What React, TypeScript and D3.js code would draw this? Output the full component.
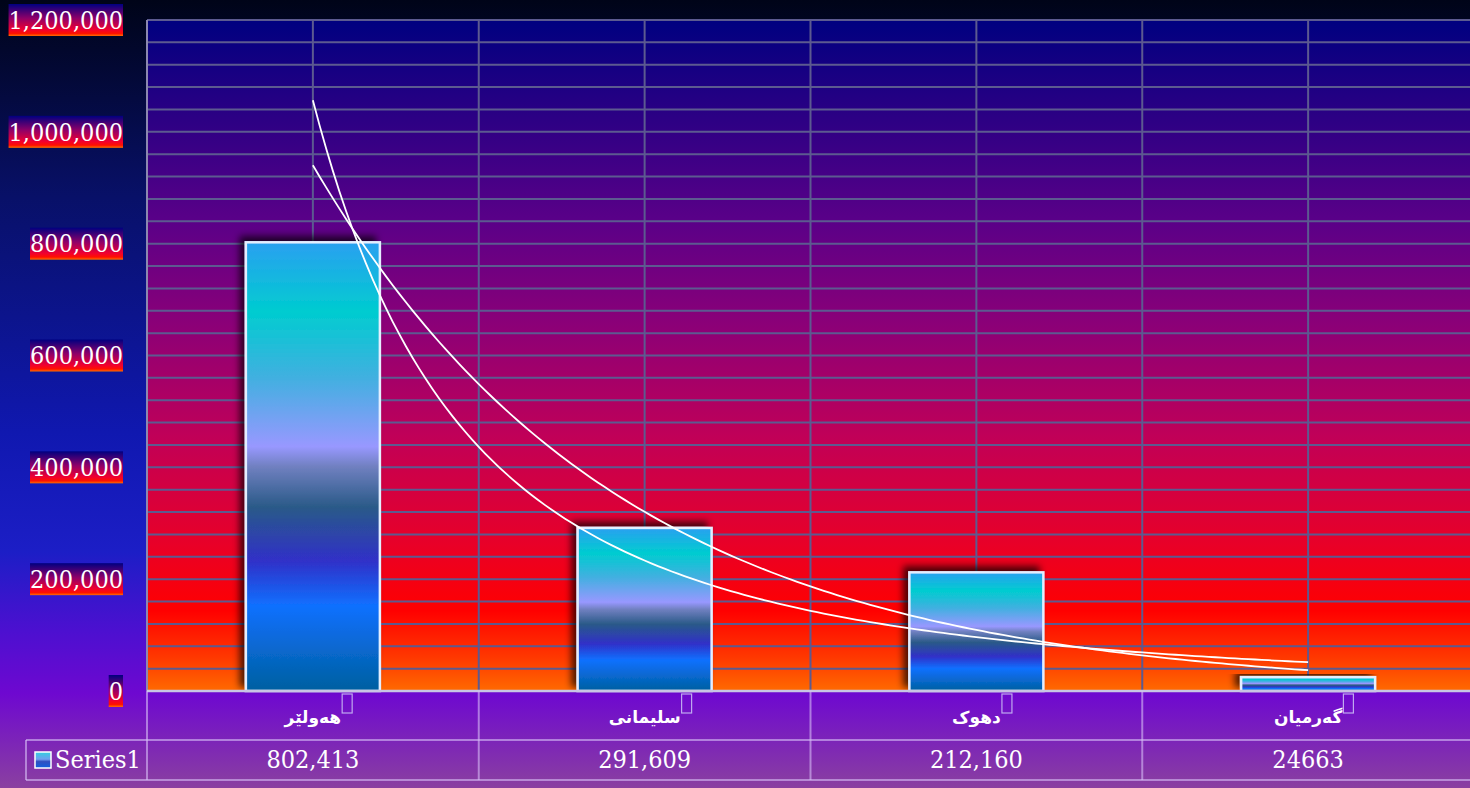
import React, { useEffect, useRef } from "react";
import * as d3 from "d3";

const categories = ["هەولێر", "سلیمانی", "دهوک", "گەرمیان"];
const values = [802413, 291609, 212160, 24663];
const valueLabels = ["802,413", "291,609", "212,160", "24663"];
const seriesName = "Series1";
const yTicks = [0, 200000, 400000, 600000, 800000, 1000000, 1200000];
const yMax = 1200000;
const minorStep = 40000;

const SERIF = "'DejaVu Serif Condensed', 'Liberation Serif', serif";

export default function App() {
  const ref = useRef<SVGSVGElement>(null);

  useEffect(() => {
    const svg = d3.select(ref.current as SVGSVGElement);
    svg.selectAll("*").remove();
    const W = 1470, H = 788;
    const left = 147, right = 1474, top = 20, bottom = 691;
    const tableRow1 = 740, tableRow2 = 780, tableLeft = 26;

    const x = d3.scaleBand<string>().domain(categories).range([left, right]).padding(0);
    const bw = x.bandwidth();
    const cx = (c: string) => (x(c) as number) + bw / 2;
    const y = d3.scaleLinear().domain([0, yMax]).range([bottom, top]);

    const defs = svg.append("defs");
    const lin = (id: string, stops: [number, string][]) => {
      const g = defs.append("linearGradient").attr("id", id)
        .attr("x1", 0).attr("y1", 0).attr("x2", 0).attr("y2", 1);
      stops.forEach(([o, c]) => g.append("stop").attr("offset", o).attr("stop-color", c));
    };
    lin("bgGrad", [[0, "#000418"], [0.25, "#081068"], [0.55, "#1018b0"], [0.7, "#1c1ec6"], [0.8, "#4c10d0"], [0.88, "#6e08d0"], [1, "#8a40a0"]]);
    lin("plotGrad", [[0, "#000080"], [0.3, "#5a0088"], [0.45, "#8a0078"], [0.62, "#c00058"], [0.78, "#e80028"], [0.88, "#ff0000"], [0.95, "#ff3800"], [1, "#ff6a00"]]);
    lin("labelGrad", [[0, "#000080"], [0.45, "#900068"], [0.8, "#f00030"], [0.92, "#ff1000"], [1, "#ff7000"]]);
    lin("barGrad", [[0, "#2aa0f0"], [0.155, "#00ccd0"], [0.3, "#40b0e0"], [0.455, "#9898ff"], [0.5, "#7080c0"], [0.59, "#2a5a88"], [0.71, "#3030c8"], [0.81, "#1070ff"], [1, "#0060a0"]]);
    lin("keyGrad", [[0, "#30d0e0"], [0.45, "#70a0f0"], [0.6, "#3050c0"], [1, "#1060e0"]]);

    const f = defs.append("filter").attr("id", "shadow")
      .attr("x", "-20%").attr("y", "-20%").attr("width", "140%").attr("height", "140%");
    f.append("feDropShadow").attr("dx", -5).attr("dy", -5).attr("stdDeviation", 3.5)
      .attr("flood-color", "#000").attr("flood-opacity", 0.7);

    // backgrounds
    svg.append("rect").attr("width", W).attr("height", H).attr("fill", "url(#bgGrad)");
    svg.append("rect").attr("x", left).attr("y", top).attr("width", right - left)
      .attr("height", bottom - top).attr("fill", "url(#plotGrad)");

    // horizontal gridlines (minor every 40,000)
    const gridVals = d3.range(minorStep, yMax + 1, minorStep);
    svg.append("g").selectAll("line").data(gridVals).join("line")
      .attr("x1", left).attr("x2", right)
      .attr("y1", (d) => y(d)).attr("y2", (d) => y(d))
      .attr("stroke", "#5c5a90").attr("stroke-width", 2);

    // vertical gridlines: category boundaries and centers
    const vx: number[] = [];
    categories.forEach((c) => { vx.push((x(c) as number)); vx.push(cx(c)); });
    svg.append("g").selectAll("line").data(vx.slice(1)).join("line")
      .attr("x1", (d) => d).attr("x2", (d) => d)
      .attr("y1", top).attr("y2", bottom)
      .attr("stroke", "#5c5a90").attr("stroke-width", 2);

    // left axis line
    svg.append("line").attr("x1", left).attr("x2", left).attr("y1", top).attr("y2", bottom)
      .attr("stroke", "#8c88b0").attr("stroke-width", 2);

    // bars
    const barW = 134;
    svg.append("g").selectAll("rect").data(values).join("rect")
      .attr("x", (_, i) => cx(categories[i]) - barW / 2)
      .attr("y", (d) => y(d))
      .attr("width", barW)
      .attr("height", (d) => bottom - y(d))
      .attr("fill", "url(#barGrad)")
      .attr("stroke", "#e4eeff").attr("stroke-width", 2.5)
      .attr("filter", "url(#shadow)");

    // trendlines (exponential and power regression on the data)
    const xs = values.map((_, i) => i + 1);
    const lys = values.map((v) => Math.log(v));
    const fit = (xv: number[]) => {
      const mx = d3.mean(xv) as number, my = d3.mean(lys) as number;
      let sxy = 0, sxx = 0;
      xv.forEach((v, i) => { sxy += (v - mx) * (lys[i] - my); sxx += (v - mx) * (v - mx); });
      const b = sxy / sxx;
      return { a: my - b * mx, b };
    };
    const ex = fit(xs);
    const pw = fit(xs.map((v) => Math.log(v)));
    const ts = d3.range(1, 4.0001, 0.02);
    const px = (t: number) => cx(categories[0]) + (t - 1) * bw;
    const expPts = ts.map((t) => [px(t), y(Math.exp(ex.a + ex.b * t))] as [number, number]);
    const powPts = ts.map((t) => [px(t), y(Math.exp(pw.a + pw.b * Math.log(t)))] as [number, number]);
    [expPts, powPts].forEach((pts) => {
      svg.append("path").attr("d", d3.line()(pts) as string)
        .attr("fill", "none").attr("stroke", "#ffffff").attr("stroke-width", 1.8);
    });

    // x axis line
    svg.append("line").attr("x1", left).attr("x2", right).attr("y1", bottom).attr("y2", bottom)
      .attr("stroke", "#c8c4e4").attr("stroke-width", 2.5);

    // y tick labels with gradient boxes
    const yl = svg.append("g");
    yTicks.forEach((t) => {
      const g = yl.append("g");
      const txt = g.append("text").attr("x", 123).attr("y", y(t)).attr("dy", "0.35em")
        .attr("text-anchor", "end").attr("font-family", SERIF).attr("font-size", 25)
        .attr("fill", "#ffffff").text(d3.format(",")(t));
      const bb = (txt.node() as SVGTextElement).getBBox();
      g.insert("rect", "text").attr("x", bb.x).attr("y", y(t) - 16).attr("width", bb.width)
        .attr("height", 32).attr("fill", "url(#labelGrad)");
    });

    // data table lines
    const tc = "rgba(215,190,245,0.6)";
    const tl = svg.append("g").attr("stroke", tc).attr("stroke-width", 2);
    tl.append("line").attr("x1", tableLeft).attr("x2", right).attr("y1", tableRow1).attr("y2", tableRow1);
    tl.append("line").attr("x1", tableLeft).attr("x2", right).attr("y1", tableRow2).attr("y2", tableRow2);
    tl.append("line").attr("x1", tableLeft).attr("x2", tableLeft).attr("y1", tableRow1).attr("y2", tableRow2);
    categories.forEach((c, i) => {
      const xx = x(c) as number;
      tl.append("line").attr("x1", xx).attr("x2", xx).attr("y1", bottom).attr("y2", tableRow2);
      if (i === categories.length - 1) {
        tl.append("line").attr("x1", xx + bw).attr("x2", xx + bw).attr("y1", bottom).attr("y2", tableRow2);
      }
    });

    // category labels
    categories.forEach((c) => {
      const t = svg.append("text").attr("x", cx(c)).attr("y", 723)
        .attr("text-anchor", "middle").attr("direction", "rtl")
        .attr("font-family", "'DejaVu Sans', sans-serif").attr("font-size", 17)
        .attr("font-weight", "bold").attr("fill", "#ffffff").text(c);
      const bb = (t.node() as SVGTextElement).getBBox();
      svg.append("rect").attr("x", bb.x + bb.width + 1).attr("y", 694).attr("width", 10).attr("height", 19)
        .attr("fill", "none").attr("stroke", "#c0a8f0").attr("stroke-width", 1.2);
    });

    // values
    valueLabels.forEach((v, i) => {
      svg.append("text").attr("x", cx(categories[i])).attr("y", 768)
        .attr("text-anchor", "middle").attr("font-family", SERIF).attr("font-size", 25)
        .attr("fill", "#ffffff").text(v);
    });

    // legend key + series name
    svg.append("rect").attr("x", 35).attr("y", 752).attr("width", 16).attr("height", 16)
      .attr("fill", "url(#keyGrad)").attr("stroke", "#ffffff").attr("stroke-width", 1.5);
    svg.append("text").attr("x", 55).attr("y", 768).attr("font-family", SERIF).attr("font-size", 25)
      .attr("fill", "#ffffff").text(seriesName);
  }, []);

  return (
    <svg ref={ref} width={1470} height={788}
      style={{ position: "absolute", left: 0, top: 0, display: "block" }} />
  );
}
